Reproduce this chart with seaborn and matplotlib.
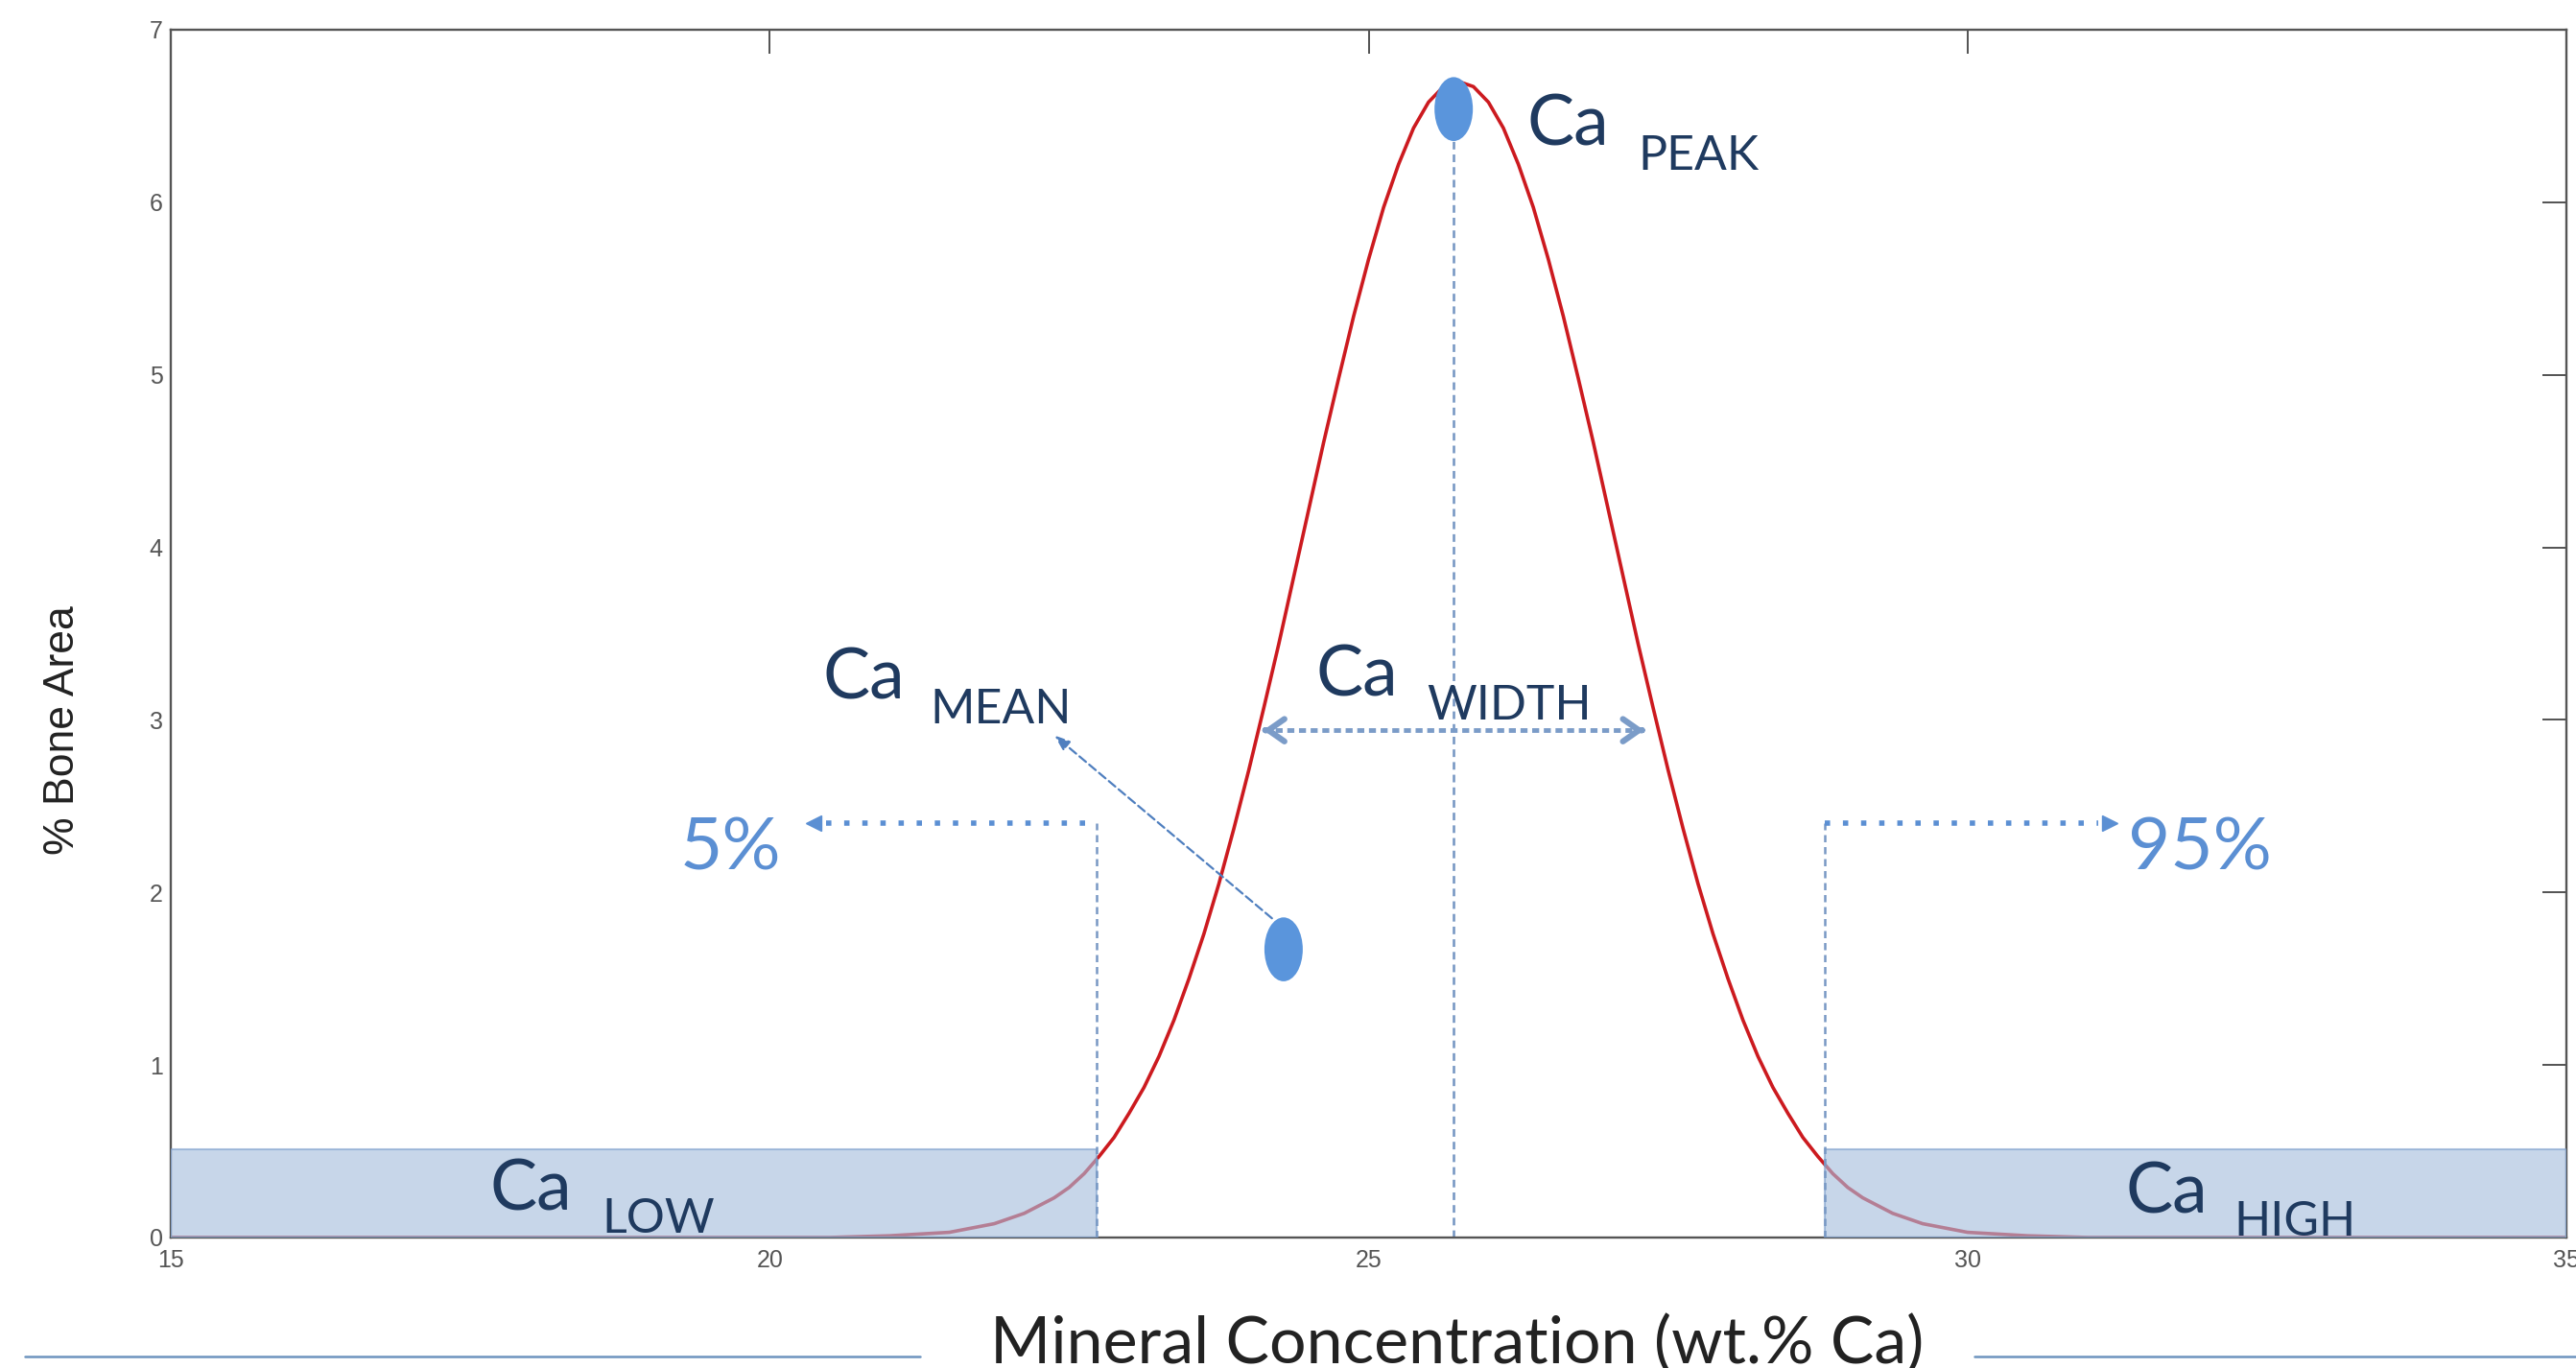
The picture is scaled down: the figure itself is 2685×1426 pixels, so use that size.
import matplotlib.pyplot as plt
import pandas as pd
import seaborn as sns
from matplotlib.lines import Line2D
from matplotlib.patches import Rectangle
from matplotlib.path import Path
from matplotlib.transforms import Affine2D

# Ca distribution curve
conc = [15.0, 20.0, 20.5, 21.0, 21.5, 21.875, 22.125, 22.375, 22.5, 22.625,
        22.75, 22.875, 23.0, 23.125, 23.25, 23.375, 23.5, 23.625, 23.75,
        23.875, 24.0, 24.125, 24.25, 24.375, 24.5, 24.625, 24.75, 24.875,
        25.0, 25.125, 25.25, 25.375, 25.5, 25.625, 25.75, 25.875, 26.0,
        26.125, 26.25, 26.375, 26.5, 26.625, 26.75, 26.875, 27.0, 27.125,
        27.25, 27.375, 27.5, 27.625, 27.75, 27.875, 28.0, 28.125, 28.25,
        28.375, 28.5, 28.625, 28.75, 28.875, 29.0, 29.125, 29.375, 29.625,
        30.0, 30.5, 31.0, 35.0]
area = [0.0, 0.0, 0.0, 0.01, 0.03, 0.08, 0.14, 0.23, 0.29, 0.37,
        0.47, 0.58, 0.72, 0.87, 1.05, 1.26, 1.50, 1.76, 2.05,
        2.37, 2.71, 3.07, 3.44, 3.83, 4.22, 4.61, 4.98, 5.34,
        5.67, 5.97, 6.22, 6.43, 6.58, 6.67, 6.70, 6.67, 6.58,
        6.43, 6.22, 5.97, 5.67, 5.34, 4.98, 4.61, 4.22, 3.83,
        3.44, 3.07, 2.71, 2.37, 2.05, 1.76, 1.50, 1.26, 1.05,
        0.87, 0.72, 0.58, 0.47, 0.37, 0.29, 0.23, 0.14, 0.08,
        0.03, 0.01, 0.0, 0.0]

# summary statistics marked on the curve
dot_names = ["PEAK", "MEAN"]
dot_x = [25.71, 24.29]
dot_y = [6.54, 1.67]
ca_low = 22.73
ca_high = 28.81
tail_height = 0.51
pct_level = 2.40
pct_ends = [20.37, 31.19]
width_ends = [24.12, 27.30]
width_level = 2.94

x_ticks = [15, 20, 25, 30, 35]
y_ticks = [0, 1, 2, 3, 4, 5, 6, 7]

NAVY = "#1f3a5f"
LIGHT = "#5b8fd3"
DASH = "#7898c4"

sns.set_theme(style="white")
plt.rcParams["font.family"] = ["Lato", "DejaVu Sans"]

fig = plt.figure(figsize=(26.85, 14.26), dpi=100)
ax = fig.add_axes([0.0663, 0.0954, 0.930, 0.8829])

curve = pd.DataFrame({"conc": conc, "area": area})
sns.lineplot(data=curve, x="conc", y="area", ax=ax, color="#cc1a1f",
             lw=2.6, estimator=None, zorder=2)

# tail boxes (translucent, drawn over the curve)
ax.add_patch(Rectangle((15, 0), ca_low - 15, tail_height, fc="#a6bddd",
                       alpha=0.62, ec="#7c9fcc", lw=1.5, zorder=3))
ax.add_patch(Rectangle((ca_high, 0), 35 - ca_high, tail_height, fc="#a6bddd",
                       alpha=0.62, ec="#7c9fcc", lw=1.5, zorder=3))

# dashed guides
ax.plot([dot_x[0], dot_x[0]], [0, dot_y[0]], ls=(0, (3, 2)), color=DASH,
        lw=1.9, zorder=2)
for xc in (ca_low, ca_high):
    ax.plot([xc, xc], [0, pct_level], ls=(0, (3, 2)), color=DASH, lw=1.8,
            zorder=4)

# percentile dotted arrows
ax.plot([pct_ends[0] + 0.1, ca_low], [pct_level, pct_level], ls=(0, (1, 2.4)),
        color=LIGHT, lw=4, zorder=4)
ax.plot([pct_ends[0]], [pct_level], marker="<", ms=11, color=LIGHT, zorder=4)
ax.plot([ca_high, pct_ends[1] - 0.1], [pct_level, pct_level], ls=(0, (1, 2.4)),
        color=LIGHT, lw=4, zorder=4)
ax.plot([pct_ends[1]], [pct_level], marker=">", ms=11, color=LIGHT, zorder=4)

# width arrow
ax.plot(width_ends, [width_level, width_level], ls=(0, (1.5, 1)),
        color="#7b9cc8", lw=3.5, zorder=4)
for tip, step in ((width_ends[0], 0.02), (width_ends[1], -0.02)):
    ax.annotate("", xy=(tip, width_level), xytext=(tip + step, width_level),
                arrowprops=dict(arrowstyle="->,head_length=1.0,head_width=0.7",
                                lw=4.5, color="#7b9cc8"), zorder=4)

# mean pointer
ax.annotate("", xy=(22.36, 2.92), xytext=(24.21, 1.84),
            arrowprops=dict(arrowstyle="-|>,head_length=0.8,head_width=0.3",
                            lw=1.6, ls=(0, (4, 2)), color="#4f7fbf"),
            zorder=4)

# peak / mean dots (tall ellipses)
ellipse = Path.unit_circle().transformed(Affine2D().scale(0.6, 1.0))
dots = pd.DataFrame({"name": dot_names, "x": dot_x, "y": dot_y})
sns.scatterplot(data=dots, x="x", y="y", ax=ax, marker=ellipse, s=2300,
                color="#5a95dc", edgecolor="none", zorder=5, legend=False)

# labels on the chart
big, small = 53, 36
ax.text(26.32, 6.33, "Ca", color=NAVY, fontsize=big)
ax.text(27.25, 6.19, "PEAK", color=NAVY, fontsize=small)
ax.text(20.44, 3.12, "Ca", color=NAVY, fontsize=big)
ax.text(21.34, 2.98, "MEAN", color=NAVY, fontsize=small)
ax.text(24.56, 3.14, "Ca", color=NAVY, fontsize=big)
ax.text(25.49, 3.00, "WIDTH", color=NAVY, fontsize=small)
ax.text(17.66, 0.16, "Ca", color=NAVY, fontsize=big, zorder=6)
ax.text(18.60, 0.03, "LOW", color=NAVY, fontsize=small, zorder=6)
ax.text(31.32, 0.14, "Ca", color=NAVY, fontsize=big, zorder=6)
ax.text(32.22, 0.01, "HIGH", color=NAVY, fontsize=small, zorder=6)
ax.text(19.25, 2.13, "5%", color=LIGHT, fontsize=55)
ax.text(31.34, 2.13, "95%", color=LIGHT, fontsize=55)

ax.set_xlim(15, 35)
ax.set_ylim(0, 7)
ax.set_xticks(x_ticks)
ax.set_yticks(y_ticks)
ax.tick_params(direction="in", length=18, width=1.3, color="#444444",
               top=True, right=True, labelsize=18, labelcolor="#555555",
               pad=6)
ax.tick_params(axis="x", pad=9)
for lab in ax.get_xticklabels() + ax.get_yticklabels():
    lab.set_family(["Liberation Sans", "DejaVu Sans"])
for sp in ax.spines.values():
    sp.set_color("#555555")
    sp.set_linewidth(1.7)
    sp.set_zorder(2.5)

ax.set_ylabel("% Bone Area", fontsize=32, color="#222222",
              family=["Liberation Sans", "DejaVu Sans"])
ax.yaxis.set_label_coords(-0.037, 0.42)
ax.set_xlabel("Mineral Concentration (wt.% Ca)", fontsize=49, color="#222222")
ax.xaxis.set_label_coords(0.537, -0.064)

# rules either side of the x label
fig.add_artist(Line2D([0.0097, 0.357], [0.0084, 0.0084], color="#6d94bf",
                      lw=1.8))
fig.add_artist(Line2D([0.7665, 1.0], [0.0084, 0.0084], color="#6d94bf",
                      lw=1.8))

fig.savefig("out.png", dpi=100)
